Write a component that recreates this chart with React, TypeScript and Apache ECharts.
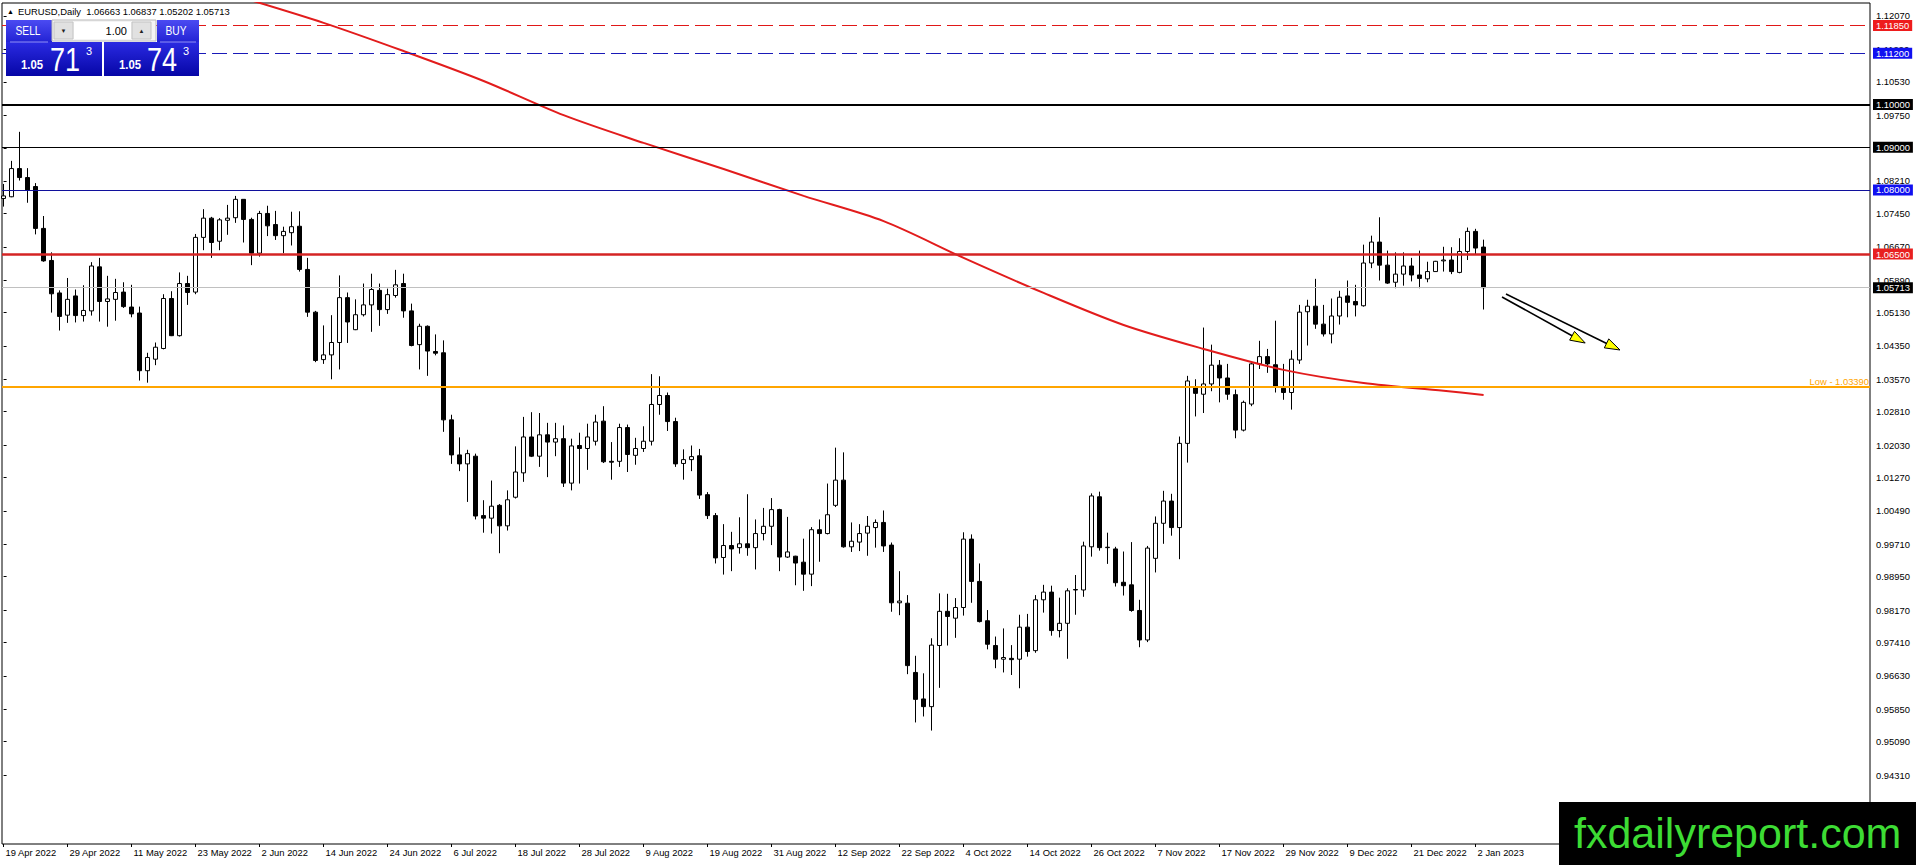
import React, { useEffect, useRef } from "react";
import * as echarts from "echarts";

// ---- Daily candles EURUSD, 19 Apr 2022 .. 3 Jan 2023 (one per trading day) ----
const OPEN = [
  1.0780, 1.0784, 1.0850, 1.0829, 1.0808, 1.0710, 1.0635, 1.0559, 1.0507, 1.0552,
  1.0506, 1.0517, 1.0620, 1.0539, 1.0544, 1.0561, 1.0526, 1.0512, 1.0377, 1.0404,
  1.0429, 1.0546, 1.0459, 1.0581, 1.0561, 1.0689, 1.0734, 1.0680, 1.0729, 1.0735,
  1.0778, 1.0731, 1.0652, 1.0745, 1.0719, 1.0693, 1.0700, 1.0715, 1.0614, 1.0514,
  1.0403, 1.0414, 1.0443, 1.0548, 1.0473, 1.0508, 1.0531, 1.0565, 1.0520, 1.0553,
  1.0581, 1.0517, 1.0438, 1.0481, 1.0422, 1.0419, 1.0262, 1.0180, 1.0159, 1.0177,
  1.0038, 1.0032, 1.0062, 1.0014, 1.0081, 1.0138, 1.0222, 1.0177, 1.0227, 1.0210,
  1.0218, 1.0114, 1.0202, 1.0195, 1.0212, 1.0259, 1.0165, 1.0165, 1.0244, 1.0179,
  1.0195, 1.0212, 1.0298, 1.0319, 1.0258, 1.0160, 1.0169, 1.0178, 1.0087, 1.0038,
  0.9940, 0.9968, 0.9963, 0.9972, 0.9963, 0.9996, 1.0013, 1.0052, 0.9941, 0.9943,
  0.9929, 0.9901, 1.0005, 0.9996, 1.0062, 1.0121, 0.9965, 0.9976, 0.9997, 1.0010,
  1.0022, 0.9969, 0.9834, 0.9833, 0.9671, 0.9609, 0.9591, 0.9734, 0.9814, 0.9798,
  0.9823, 0.9983, 0.9884, 0.9792, 0.9734, 0.9702, 0.9704, 0.9702, 0.9777, 0.9722,
  0.9841, 0.9859, 0.9769, 0.9786, 0.9865, 0.9864, 0.9965, 1.0082, 0.9963, 0.9960,
  0.9882, 0.9876, 0.9816, 0.9747, 0.9938, 1.0020, 1.0072, 1.0010, 1.0207, 1.0338,
  1.0322, 1.0346, 1.0390, 1.0360, 1.0321, 1.0238, 1.0299, 1.0393, 1.0410, 1.0391,
  1.0336, 1.0326, 1.0402, 1.0515, 1.0528, 1.0486, 1.0463, 1.0505, 1.0552, 1.0539,
  1.0529, 1.0629, 1.0678, 1.0624, 1.0584, 1.0603, 1.0622, 1.0601, 1.0592, 1.0609,
  1.0634, 1.0636, 1.0607, 1.0656, 1.0703, 1.06663,
];
const HIGH = [
  1.0814, 1.0868, 1.0936, 1.0851, 1.0816, 1.0739, 1.0654, 1.0565, 1.0594, 1.0567,
  1.0577, 1.0631, 1.0641, 1.0599, 1.0592, 1.0584, 1.0578, 1.0527, 1.0419, 1.0443,
  1.0556, 1.0563, 1.0607, 1.0599, 1.0697, 1.0755, 1.0737, 1.0734, 1.0765, 1.0786,
  1.0778, 1.0735, 1.0751, 1.0763, 1.0751, 1.0714, 1.0749, 1.0750, 1.0641, 1.0517,
  1.0483, 1.0507, 1.0600, 1.0560, 1.0544, 1.0581, 1.0604, 1.0581, 1.0569, 1.0613,
  1.0604, 1.0534, 1.0487, 1.0483, 1.0462, 1.0448, 1.0274, 1.0221, 1.0192, 1.0183,
  1.0074, 1.0120, 1.0065, 1.0097, 1.0200, 1.0269, 1.0280, 1.0278, 1.0255, 1.0255,
  1.0249, 1.0218, 1.0232, 1.0253, 1.0274, 1.0294, 1.0210, 1.0253, 1.0251, 1.0220,
  1.0247, 1.0369, 1.0364, 1.0326, 1.0267, 1.0193, 1.0202, 1.0194, 1.0093, 1.0044,
  1.0018, 1.0000, 1.0034, 1.0088, 1.0029, 1.0056, 1.0079, 1.0054, 1.0035, 0.9944,
  0.9984, 1.0011, 1.0029, 1.0113, 1.0197, 1.0186, 1.0022, 1.0018, 1.0037, 1.0029,
  1.0050, 0.9975, 0.9908, 0.9852, 0.9710, 0.9669, 0.9751, 0.9856, 0.9855, 0.9845,
  0.9999, 0.9994, 0.9926, 0.9817, 0.9755, 0.9774, 0.9735, 0.9806, 0.9808, 0.9852,
  0.9876, 0.9874, 0.9846, 0.9868, 0.9899, 0.9977, 1.0090, 1.0094, 0.9998, 0.9965,
  0.9954, 0.9976, 0.9841, 0.9967, 1.0036, 1.0096, 1.0089, 1.0223, 1.0365, 1.0357,
  1.0478, 1.0438, 1.0402, 1.0393, 1.0333, 1.0307, 1.0398, 1.0447, 1.0428, 1.0494,
  1.0393, 1.0425, 1.0531, 1.0543, 1.0592, 1.0531, 1.0546, 1.0564, 1.0588, 1.0578,
  1.0672, 1.0693, 1.0736, 1.0658, 1.0654, 1.0654, 1.0641, 1.0658, 1.0632, 1.0634,
  1.0667, 1.0666, 1.0687, 1.0712, 1.0709, 1.06837,
];
const LOW = [
  1.0761, 1.0783, 1.0822, 1.0770, 1.0696, 1.0632, 1.0513, 1.0471, 1.0489, 1.0490,
  1.0492, 1.0506, 1.0492, 1.0480, 1.0494, 1.0524, 1.0502, 1.0354, 1.0349, 1.0390,
  1.0427, 1.0458, 1.0457, 1.0531, 1.0556, 1.0659, 1.0641, 1.0659, 1.0695, 1.0723,
  1.0677, 1.0624, 1.0644, 1.0692, 1.0683, 1.0652, 1.0670, 1.0609, 1.0503, 1.0397,
  1.0393, 1.0357, 1.0380, 1.0442, 1.0472, 1.0504, 1.0468, 1.0482, 1.0510, 1.0548,
  1.0501, 1.0434, 1.0380, 1.0365, 1.0413, 1.0234, 1.0159, 1.0142, 1.0070, 1.0029,
  0.9998, 0.9996, 0.9950, 1.0003, 1.0078, 1.0117, 1.0175, 1.0152, 1.0128, 1.0177,
  1.0105, 1.0097, 1.0113, 1.0145, 1.0202, 1.0161, 1.0122, 1.0152, 1.0140, 1.0157,
  1.0187, 1.0202, 1.0274, 1.0236, 1.0152, 1.0122, 1.0142, 1.0077, 1.0030, 0.9926,
  0.9900, 0.9908, 0.9949, 0.9944, 0.9912, 0.9980, 0.9969, 0.9908, 0.9939, 0.9875,
  0.9862, 0.9873, 0.9930, 0.9994, 1.0058, 0.9963, 0.9953, 0.9955, 0.9944, 0.9963,
  0.9953, 0.9813, 0.9805, 0.9667, 0.9554, 0.9568, 0.9535, 0.9635, 0.9734, 0.9752,
  0.9804, 0.9834, 0.9788, 0.9725, 0.9681, 0.9671, 0.9665, 0.9634, 0.9708, 0.9717,
  0.9811, 0.9757, 0.9753, 0.9703, 0.9806, 0.9848, 0.9942, 0.9956, 0.9925, 0.9872,
  0.9851, 0.9813, 0.9730, 0.9742, 0.9905, 0.9972, 0.9991, 0.9936, 1.0162, 1.0270,
  1.0278, 1.0329, 1.0303, 1.0309, 1.0219, 1.0235, 1.0294, 1.0381, 1.0372, 1.0326,
  1.0309, 1.0286, 1.0393, 1.0436, 1.0475, 1.0457, 1.0441, 1.0485, 1.0502, 1.0504,
  1.0527, 1.0617, 1.0588, 1.0580, 1.0570, 1.0576, 1.0586, 1.0570, 1.0584, 1.0609,
  1.0609, 1.0603, 1.0605, 1.0636, 1.0650, 1.05202,
];
const CLOSE = [
  1.0786, 1.0850, 1.0829, 1.0800, 1.0710, 1.0634, 1.0557, 1.0504, 1.0544, 1.0506,
  1.0518, 1.0622, 1.0539, 1.0545, 1.0560, 1.0527, 1.0510, 1.0377, 1.0408, 1.0432,
  1.0546, 1.0459, 1.0581, 1.0560, 1.0689, 1.0734, 1.0677, 1.0730, 1.0734, 1.0778,
  1.0731, 1.0652, 1.0745, 1.0716, 1.0693, 1.0703, 1.0714, 1.0614, 1.0514, 1.0401,
  1.0414, 1.0443, 1.0548, 1.0491, 1.0508, 1.0531, 1.0567, 1.0520, 1.0555, 1.0578,
  1.0517, 1.0436, 1.0481, 1.0423, 1.0418, 1.0262, 1.0180, 1.0159, 1.0183, 1.0037,
  1.0032, 1.0060, 1.0014, 1.0075, 1.0140, 1.0222, 1.0177, 1.0227, 1.0210, 1.0218,
  1.0114, 1.0201, 1.0195, 1.0222, 1.0257, 1.0164, 1.0163, 1.0244, 1.0181, 1.0195,
  1.0212, 1.0298, 1.0319, 1.0258, 1.0159, 1.0169, 1.0176, 1.0086, 1.0038, 0.9939,
  0.9968, 0.9960, 0.9972, 0.9963, 0.9996, 1.0013, 1.0052, 0.9941, 0.9953, 0.9927,
  0.9901, 1.0005, 0.9996, 1.0040, 1.0121, 0.9965, 0.9978, 0.9996, 1.0013, 1.0022,
  0.9967, 0.9834, 0.9838, 0.9687, 0.9608, 0.9591, 0.9735, 0.9814, 0.9802, 0.9823,
  0.9983, 0.9884, 0.9790, 0.9737, 0.9702, 0.9706, 0.9701, 0.9777, 0.9720, 0.9841,
  0.9859, 0.9769, 0.9786, 0.9862, 0.9864, 0.9967, 1.0084, 0.9963, 0.9964, 0.9881,
  0.9874, 0.9816, 0.9747, 0.9962, 1.0020, 1.0072, 1.0010, 1.0207, 1.0353, 1.0324,
  1.0346, 1.0390, 1.0360, 1.0322, 1.0238, 1.0303, 1.0393, 1.0410, 1.0393, 1.0340,
  1.0326, 1.0404, 1.0514, 1.0528, 1.0486, 1.0463, 1.0505, 1.0549, 1.0537, 1.0531,
  1.0629, 1.0678, 1.0624, 1.0582, 1.0603, 1.0622, 1.0601, 1.0593, 1.0609, 1.0633,
  1.0636, 1.0609, 1.0656, 1.0703, 1.0664, 1.05713,
];

// date labels: one every 8 bars
const X_LABEL_STEP = 8;
const X_LABELS = [
  "19 Apr 2022", "29 Apr 2022", "11 May 2022", "23 May 2022", "2 Jun 2022", "14 Jun 2022",
  "24 Jun 2022", "6 Jul 2022", "18 Jul 2022", "28 Jul 2022", "9 Aug 2022", "19 Aug 2022",
  "31 Aug 2022", "12 Sep 2022", "22 Sep 2022", "4 Oct 2022", "14 Oct 2022", "26 Oct 2022",
  "7 Nov 2022", "17 Nov 2022", "29 Nov 2022", "9 Dec 2022", "21 Dec 2022", "2 Jan 2023",
];

// price scale tick labels
const Y_TICKS = [
  1.1207, 1.1129, 1.1053, 1.0975, 1.0897, 1.0821, 1.0745, 1.0667, 1.0589, 1.0513,
  1.0435, 1.0357, 1.0281, 1.0203, 1.0127, 1.0049, 0.9971, 0.9895, 0.9817, 0.9741,
  0.9663, 0.9585, 0.9509, 0.9431,
];

// moving average (bar index, value)
const MA_IDX = [30, 40, 50, 60, 70, 80, 90, 100, 110, 120, 130, 140, 150, 160, 170, 180, 185];
const MA_VAL = [
  1.1249, 1.1191, 1.1125, 1.1055, 1.0975, 1.0910, 1.0849, 1.0786, 1.0727, 1.0641,
  1.0559, 1.0484, 1.0428, 1.0379, 1.0348, 1.0330, 1.0320,
];

// horizontal levels
const LEVELS = [1.1185, 1.112, 1.1, 1.09, 1.08, 1.065];
const BID = 1.05713;
const PERIOD_LOW = 1.0339;

// trend arrows: [startIndex, startPrice, endIndex, endPrice]
const ARROWS = [
  [187.3, 1.05495, 197.7, 1.04418],
  [187.8, 1.05565, 202.05, 1.04255],
];

const Y_MIN = 0.92696;
const Y_MAX = 1.12374;
const X_MIN = -0.2;
const X_MAX = 233.3;

const FONT = "'Liberation Sans', Arial, sans-serif";

const LEVEL_STYLES = [
  { color: "#e01818", width: 1, type: [15, 6], box: "#ee1c1c" },
  { color: "#1a1ab8", width: 1, type: [15, 6], box: "#1010f0" },
  { color: "#000000", width: 2, type: "solid", box: "#000000" },
  { color: "#000000", width: 1, type: "solid", box: "#000000" },
  { color: "#10109c", width: 1, type: "solid", box: "#1010f0" },
  { color: "#d42424", width: 2.5, type: "solid", box: "#e82020" },
];

function buildOption() {
  const candles = OPEN.map((o, i) => [i, o, CLOSE[i], LOW[i], HIGH[i]]);
  const ma = MA_IDX.map((x, i) => [x, MA_VAL[i]]);
  const xTickVals = X_LABELS.map((_, i) => i * X_LABEL_STEP);

  const boxLabel = (bg: string, value: number) => ({
    show: true,
    position: "end",
    distance: 3,
    formatter: () => value.toFixed(5),
    color: "#ffffff",
    backgroundColor: bg,
    fontSize: 9.4,
    fontFamily: FONT,
    padding: [1, 3, 0, 3],
    lineHeight: 10,
  });

  const markData: any[] = LEVELS.map((v, i) => ({
    yAxis: v,
    lineStyle: {
      color: LEVEL_STYLES[i].color,
      width: LEVEL_STYLES[i].width,
      type: LEVEL_STYLES[i].type,
    },
    label: boxLabel(LEVEL_STYLES[i].box, v),
  }));
  markData.push({
    yAxis: BID,
    lineStyle: { color: "#c0c0c0", width: 1, type: "solid" },
    label: boxLabel("#000000", BID),
  });
  markData.push({
    yAxis: PERIOD_LOW,
    lineStyle: { color: "#ffa500", width: 2, type: "solid" },
    label: {
      show: true,
      position: "insideEndTop",
      distance: 1,
      formatter: () => "Low - " + PERIOD_LOW.toFixed(5),
      color: "#ffa500",
      fontSize: 9.4,
      fontFamily: FONT,
    },
  });

  const blueTab = new echarts.graphic.LinearGradient(0, 0, 0, 1, [
    { offset: 0, color: "#4b4bf2" },
    { offset: 1, color: "#2323d4" },
  ]);
  const blueBox = new echarts.graphic.LinearGradient(0, 0, 0, 1, [
    { offset: 0, color: "#2a2ae2" },
    { offset: 1, color: "#0606a6" },
  ]);

  const txt = (
    text: string,
    x: number,
    y: number,
    size: number,
    opts: any = {}
  ) => ({
    type: "text",
    x,
    y,
    z: 50,
    scaleX: opts.scaleX ?? 1,
    style: {
      text,
      fill: opts.fill ?? "#ffffff",
      font: `${opts.bold ? "bold " : ""}${size}px ${FONT}`,
      textAlign: opts.align ?? "left",
      textVerticalAlign: "middle",
    },
  });

  const graphics: any[] = [
    // title
    txt("\u25B2", 7, 11, 7, { fill: "#000" }),
    txt("EURUSD,Daily\u00a0\u00a01.06663 1.06837 1.05202 1.05713", 18, 11, 9.4, { fill: "#000" }),
    // one-click trading panel
    { type: "rect", z: 40, shape: { x: 6, y: 20, width: 46, height: 22 }, style: { fill: blueTab } },
    { type: "rect", z: 40, shape: { x: 157, y: 20, width: 42, height: 22 }, style: { fill: blueTab } },
    { type: "rect", z: 40, shape: { x: 6, y: 42, width: 96, height: 34 }, style: { fill: blueBox } },
    { type: "rect", z: 40, shape: { x: 104, y: 42, width: 95, height: 34 }, style: { fill: blueBox } },
    { type: "line", z: 45, shape: { x1: 10, y1: 42, x2: 48, y2: 42 }, style: { stroke: "#8f8ff5", lineWidth: 1 } },
    { type: "line", z: 45, shape: { x1: 160, y1: 42, x2: 196, y2: 42 }, style: { stroke: "#8f8ff5", lineWidth: 1 } },
    { type: "rect", z: 40, shape: { x: 52, y: 20, width: 104, height: 21 }, style: { fill: "#f4f4f4", stroke: "#b8b8b8", lineWidth: 1 } },
    { type: "rect", z: 41, shape: { x: 54, y: 22, width: 19, height: 17 }, style: { fill: "#e1e1e1", stroke: "#c4c4c4", lineWidth: 1 } },
    { type: "rect", z: 41, shape: { x: 74, y: 22, width: 57, height: 17 }, style: { fill: "#ffffff" } },
    { type: "rect", z: 41, shape: { x: 132, y: 22, width: 19, height: 17 }, style: { fill: "#e1e1e1", stroke: "#c4c4c4", lineWidth: 1 } },
    txt("\u25BC", 63.5, 31, 6, { fill: "#222", align: "center" }),
    txt("\u25B2", 141.5, 31, 6, { fill: "#222", align: "center" }),
    txt("1.00", 127, 31, 11, { fill: "#000", align: "right" }),
    txt("SELL", 28, 31, 12, { align: "center", scaleX: 0.85 }),
    txt("BUY", 176, 31, 12, { align: "center", scaleX: 0.85 }),
    txt("1.05", 21, 65, 13, { bold: true, scaleX: 0.87 }),
    txt("71", 50, 59.5, 33, { scaleX: 0.82 }),
    txt("3", 86, 51, 11),
    txt("1.05", 119, 65, 13, { bold: true, scaleX: 0.87 }),
    txt("74", 147, 59.5, 33, { scaleX: 0.82 }),
    txt("3", 183, 51, 11),
    // watermark
    { type: "rect", z: 100, shape: { x: 1559, y: 802, width: 357, height: 63 }, style: { fill: "#000000" } },
    {
      type: "text",
      z: 101,
      x: 1574,
      y: 833,
      style: {
        text: "fxdailyreport.com",
        fill: "#3ddc34",
        font: `43px ${FONT}`,
        textAlign: "left",
        textVerticalAlign: "middle",
      },
    },
  ];

  return {
    animation: false,
    backgroundColor: "#ffffff",
    grid: {
      left: 2,
      top: 3,
      right: 46,
      bottom: 21,
      show: true,
      borderColor: "#000000",
      borderWidth: 1,
      backgroundColor: "transparent",
    },
    xAxis: {
      type: "value",
      min: X_MIN,
      max: X_MAX,
      axisLine: { show: false },
      splitLine: { show: false },
      axisTick: {
        show: true,
        customValues: xTickVals,
        length: 3,
        lineStyle: { color: "#000" },
      },
      axisLabel: {
        customValues: xTickVals,
        formatter: (v: number) => X_LABELS[Math.round(v / X_LABEL_STEP)] ?? "",
        align: "left",
        padding: [0, 0, 0, 2],
        margin: 4,
        color: "#000",
        fontSize: 9.4,
        fontFamily: FONT,
      },
    },
    yAxis: {
      type: "value",
      position: "right",
      min: Y_MIN,
      max: Y_MAX,
      axisLine: { show: false },
      splitLine: { show: false },
      axisTick: {
        show: true,
        customValues: Y_TICKS,
        length: 3,
        lineStyle: { color: "#000" },
      },
      axisLabel: {
        customValues: Y_TICKS,
        formatter: (v: number) => v.toFixed(5),
        margin: 6,
        color: "#000",
        fontSize: 9.4,
        fontFamily: FONT,
      },
    },
    series: [
      {
        type: "candlestick",
        data: candles,
        encode: { x: 0, y: [1, 2, 3, 4] },
        barWidth: 5,
        itemStyle: {
          color: "#ffffff",
          color0: "#000000",
          borderColor: "#000000",
          borderColor0: "#000000",
          borderWidth: 1,
        },
        markLine: {
          silent: true,
          symbol: ["none", "none"],
          precision: 5,
          animation: false,
          data: markData,
        },
        z: 3,
      },
      {
        type: "line",
        data: ma,
        smooth: 0.3,
        showSymbol: false,
        lineStyle: { color: "#e21c1c", width: 2 },
        z: 4,
      },
      {
        type: "custom",
        data: ARROWS,
        dimensions: ["x1", "y1", "x2", "y2"],
        encode: { x: [0, 2], y: [1, 3] },
        z: 5,
        renderItem: (_params: any, api: any) => {
          const p1 = api.coord([api.value(0), api.value(1)]);
          const p2 = api.coord([api.value(2), api.value(3)]);
          const dx = p2[0] - p1[0];
          const dy = p2[1] - p1[1];
          const len = Math.hypot(dx, dy) || 1;
          const ux = dx / len;
          const uy = dy / len;
          const hl = 15;
          const hw = 5;
          const bx = p2[0] - ux * hl;
          const by = p2[1] - uy * hl;
          const nx = -uy;
          const ny = ux;
          return {
            type: "group",
            children: [
              {
                type: "line",
                shape: { x1: p1[0], y1: p1[1], x2: bx + ux * 3, y2: by + uy * 3 },
                style: { stroke: "#000", lineWidth: 1.6 },
              },
              {
                type: "polygon",
                shape: {
                  points: [
                    [p2[0], p2[1]],
                    [bx + nx * hw, by + ny * hw],
                    [bx - nx * hw, by - ny * hw],
                  ],
                },
                style: { fill: "#ffff00", stroke: "#000", lineWidth: 1 },
              },
            ],
          };
        },
      },
    ],
    graphic: { elements: graphics },
  };
}

export default function App() {
  const ref = useRef<HTMLDivElement>(null);
  useEffect(() => {
    if (!ref.current) return;
    const chart = echarts.init(ref.current, null, { renderer: "svg" });
    chart.setOption(buildOption() as any);
    return () => chart.dispose();
  }, []);
  return (
    <div
      ref={ref}
      style={{
        position: "fixed",
        left: 0,
        top: 0,
        width: 1916,
        height: 865,
        background: "#ffffff",
      }}
    />
  );
}
